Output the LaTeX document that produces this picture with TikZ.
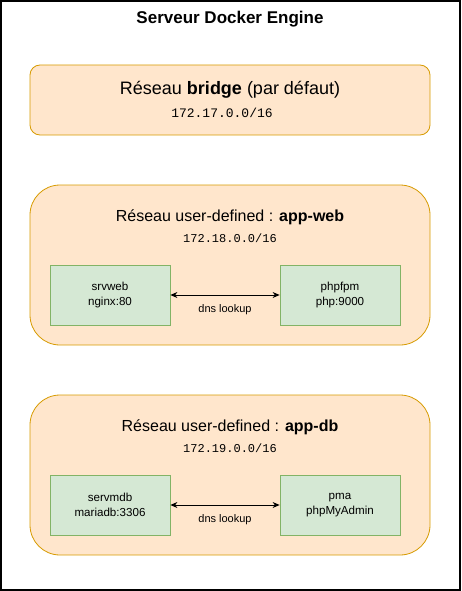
\documentclass[tikz,border=0pt]{standalone}
\usepackage{fontspec}
\setmainfont{Liberation Sans}
\setmonofont{Liberation Mono}
\usetikzlibrary{arrows.meta, positioning}
\usepackage{xcolor}
\definecolor{netfill}{HTML}{FFE6CC}
\definecolor{netdraw}{HTML}{D79B00}
\definecolor{ctfill}{HTML}{D5E8D4}
\definecolor{ctdraw}{HTML}{82B366}

\begin{document}
\begin{tikzpicture}[ % px-like units, y going down
        x=1pt, y=-1pt,
        netbox/.style={rectangle, draw=netdraw, fill=netfill, line width=0.8pt, minimum width=400pt},
        ctbox/.style={rectangle, draw=ctdraw, fill=ctfill, line width=0.8pt, minimum width=120pt, minimum height=60pt, align=center, font=\fontsize{11.6}{15}\selectfont},
        nettitle/.style={font=\fontsize{16}{19}\selectfont},
        netip/.style={font=\ttfamily\fontsize{12}{14}\selectfont},
        dnsarrow/.style={{Stealth[length=7pt,width=6pt]}-{Stealth[length=7pt,width=6pt]}, line width=0.8pt},
        dnslabel/.style={font=\fontsize{11}{13}\selectfont}
    ]
    \useasboundingbox (0,0) rectangle (461,591);
    % --- Server frame ---
    \node (server) [rectangle, draw, line width=1.2pt, minimum width=459pt, minimum height=589pt] at (230.5,295.5) {};
    \node (servertitle) [font=\bfseries\fontsize{17}{20}\selectfont] at (230,19) {Serveur Docker Engine};
    % --- Default bridge network ---
    \node (bridge) [netbox, rounded corners=10pt, minimum height=70pt] at (230,100) {};
    \node (bridgetitle) [font=\fontsize{18}{21}\selectfont] at (230,90) {Réseau \textbf{bridge} (par défaut)};
    \node (bridgeip) [netip, font=\ttfamily\fontsize{13}{15}\selectfont] at (222,113) {172.17.0.0/16};
    % --- Network app-web ---
    \node (appweb) [netbox, rounded corners=30pt, minimum height=160pt] at (230,265) {};
    \node (appwebtitle) [nettitle] at (230,217) {Réseau user-defined : \textbf{app-web}};
    \node (appwebip) [netip] at (230,238) {172.18.0.0/16};
    \node (srvweb) [ctbox] at (110,295) {srvweb\\nginx:80};
    \node (phpfpm) [ctbox] at (340,295) {phpfpm\\php:9000};
    % --- Network app-db ---
    \node (appdb) [netbox, rounded corners=30pt, minimum height=160pt] at (230,475) {};
    \node (appdbtitle) [nettitle] at (230,427) {Réseau user-defined : \textbf{app-db}};
    \node (appdbip) [netip] at (230,448) {172.19.0.0/16};
    \node (servmdb) [ctbox] at (110,505) {servmdb\\mariadb:3306};
    \node (pma) [ctbox] at (340,505) {pma\\phpMyAdmin};
    % --- DNS lookups ---
    \draw[dnsarrow] (srvweb) -- (phpfpm) node[dnslabel, midway, yshift=-15pt] {dns lookup};
    \draw[dnsarrow] (servmdb) -- (pma) node[dnslabel, midway, yshift=-15pt] {dns lookup};
\end{tikzpicture}
\end{document}
